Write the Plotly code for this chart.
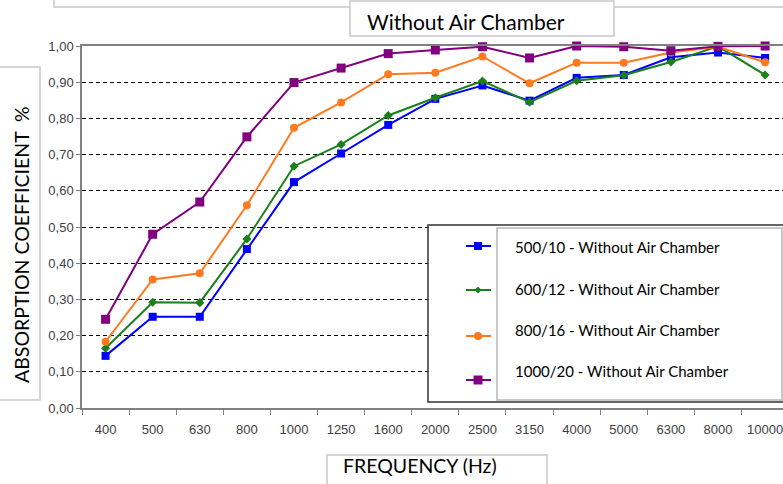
import plotly.graph_objects as go

freqs = ["400", "500", "630", "800", "1000", "1250", "1600", "2000", "2500",
         "3150", "4000", "5000", "6300", "8000", "10000"]
s500 = [0.144, 0.252, 0.252, 0.439, 0.624, 0.703, 0.782, 0.854, 0.891,
        0.849, 0.912, 0.920, 0.969, 0.982, 0.967]
s600 = [0.165, 0.292, 0.291, 0.467, 0.668, 0.728, 0.808, 0.857, 0.903,
        0.845, 0.904, 0.919, 0.956, 0.999, 0.920]
s800 = [0.183, 0.355, 0.372, 0.560, 0.774, 0.844, 0.922, 0.926, 0.971,
        0.897, 0.954, 0.954, 0.982, 0.998, 0.955]
s1000 = [0.245, 0.480, 0.569, 0.749, 0.899, 0.939, 0.979, 0.989, 0.998,
         0.967, 1.000, 0.998, 0.987, 0.999, 1.000]
names = ["500/10 - Without Air Chamber", "600/12 - Without Air Chamber",
         "800/16 - Without Air Chamber", "1000/20 - Without Air Chamber"]
colors = ["#0000FF", "#1A801A", "#FF7A1F", "#800080"]
symbols = ["square", "diamond", "circle", "square"]
msizes = [8, 7, 8, 9]

W, H = 783, 484
L, R, T, B = 82, 0, 46, 76
PW, PH = W - L - R, H - T - B

def px(x):
    return (x - L) / PW

def py(y):
    return (H - B - y) / PH

fig = go.Figure()
for vals, nm, c, sym, ms in zip([s500, s600, s800, s1000], names, colors, symbols, msizes):
    fig.add_trace(go.Scatter(
        x=freqs, y=vals, name=nm, mode="lines+markers",
        line=dict(color=c, width=2),
        marker=dict(symbol=sym, size=ms, color=c),
        cliponaxis=False, showlegend=False))

shapes = []
annotations = []
# outer top frame (chart title area border)
shapes.append(dict(type="rect", xref="paper", yref="paper", x0=px(54), x1=px(800),
                   y0=py(-10), y1=py(7), line=dict(color="#C8C8C8", width=1.5), layer="above"))
# title box
shapes.append(dict(type="rect", xref="paper", yref="paper", x0=px(350), x1=px(614),
                   y0=py(1), y1=py(36), line=dict(color="#C8C8C8", width=1.5),
                   fillcolor="white", layer="above"))
annotations.append(dict(text="Without Air Chamber", xref="paper", yref="paper",
                        x=px(466), y=py(21), showarrow=False, xanchor="center", yanchor="middle",
                        font=dict(family="Lato", size=21, color="black")))
# y title box
shapes.append(dict(type="rect", xref="paper", yref="paper", x0=px(-2), x1=px(40),
                   y0=py(400), y1=py(67), line=dict(color="#C8C8C8", width=1.5),
                   fillcolor="white", layer="above"))
annotations.append(dict(text="ABSORPTION COEFFICIENT  %", xref="paper", yref="paper",
                        x=px(21), y=py(245), showarrow=False, textangle=-90,
                        xanchor="center", yanchor="middle",
                        font=dict(family="Lato", size=19.5, color="black")))
# x title box
shapes.append(dict(type="rect", xref="paper", yref="paper", x0=px(327), x1=px(547),
                   y0=py(495), y1=py(455), line=dict(color="#C8C8C8", width=1.5),
                   fillcolor="white", layer="above"))
annotations.append(dict(text="FREQUENCY (Hz)", xref="paper", yref="paper",
                        x=px(420), y=py(465), showarrow=False,
                        xanchor="center", yanchor="middle",
                        font=dict(family="Lato", size=19.5, color="black")))
# legend boxes
shapes.append(dict(type="rect", xref="paper", yref="paper", x0=px(428), x1=px(800),
                   y0=py(402), y1=py(225), line=dict(color="#333333", width=1.5),
                   fillcolor="white", layer="above"))
shapes.append(dict(type="rect", xref="paper", yref="paper", x0=px(497), x1=px(782),
                   y0=py(400), y1=py(228), line=dict(color="#C8C8C8", width=2),
                   fillcolor="white", layer="above"))
sym_y = [246, 290, 336, 380]
txt_y = [247, 289, 330, 371]
for i in range(4):
    c = colors[i]
    yy = sym_y[i]
    shapes.append(dict(type="line", xref="paper", yref="paper", x0=px(466), x1=px(491),
                       y0=py(yy), y1=py(yy), line=dict(color=c, width=2), layer="above"))
    cx = 478
    if symbols[i] == "square":
        h = msizes[i] / 2
        shapes.append(dict(type="rect", xref="paper", yref="paper", x0=px(cx - h), x1=px(cx + h),
                           y0=py(yy + h), y1=py(yy - h), line=dict(width=0), fillcolor=c,
                           layer="above"))
    elif symbols[i] == "circle":
        h = 4
        shapes.append(dict(type="circle", xref="paper", yref="paper", x0=px(cx - h), x1=px(cx + h),
                           y0=py(yy + h), y1=py(yy - h), line=dict(width=0), fillcolor=c,
                           layer="above"))
    else:
        h = 3.5
        path = "M {} {} L {} {} L {} {} L {} {} Z".format(
            px(cx), py(yy - h), px(cx + h), py(yy), px(cx), py(yy + h), px(cx - h), py(yy))
        shapes.append(dict(type="path", xref="paper", yref="paper", path=path,
                           line=dict(width=0), fillcolor=c, layer="above"))
    annotations.append(dict(text=names[i], xref="paper", yref="paper", x=px(513), y=py(txt_y[i]),
                            xanchor="left", yanchor="middle", showarrow=False,
                            font=dict(family="Lato", size=15, color="black")))

fig.update_layout(
    width=W, height=H,
    margin=dict(l=L, r=R, t=T, b=B, pad=0),
    paper_bgcolor="white", plot_bgcolor="white",
    separators=", ",
    shapes=shapes, annotations=annotations,
    showlegend=False,
    xaxis=dict(type="category", range=[-0.5, 14.38], tickson="boundaries",
               ticks="outside", ticklen=5, tickcolor="#808080", tickwidth=1,
               showline=True, linecolor="#808080", linewidth=1.5, mirror=True,
               showgrid=False, ticklabelstandoff=9,
               tickfont=dict(family="Liberation Sans", size=13, color="#404040")),
    yaxis=dict(range=[0, 1], tickvals=[i / 10 for i in range(11)], tickformat=".2f",
               ticks="outside", ticklen=4, tickcolor="#808080",
               showline=True, linecolor="#808080", linewidth=1.5,
               showgrid=True, gridcolor="black", gridwidth=1, griddash="4px,3px",
               zeroline=False,
               tickfont=dict(family="Liberation Sans", size=13, color="#404040")),
)

fig.write_html("out.html", config={"displayModeBar": False},
               post_script="document.body.style.margin='0';document.body.style.overflow='hidden';")
